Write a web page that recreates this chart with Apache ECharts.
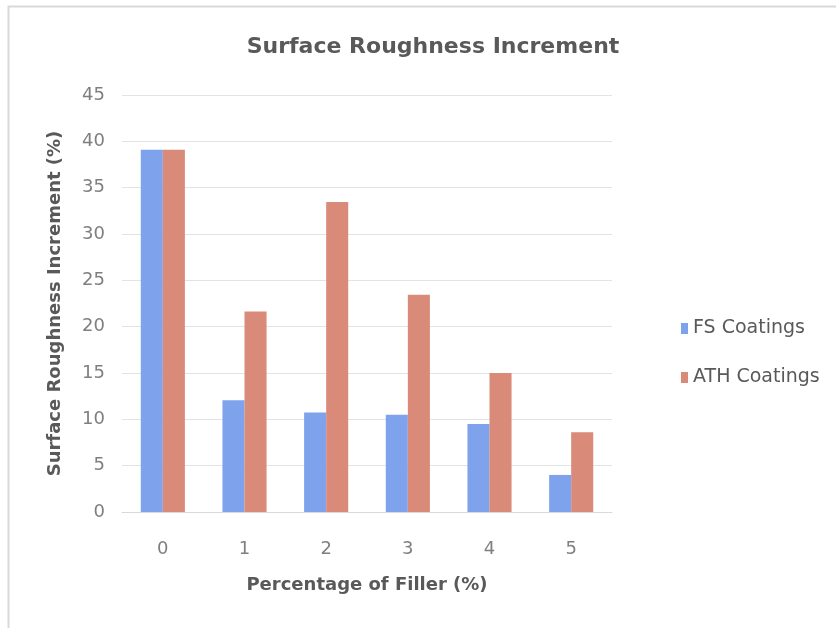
<!DOCTYPE html>
<html>
<head>
<meta charset="utf-8">
<script src="https://cdn.jsdelivr.net/npm/echarts@6/dist/echarts.min.js"></script>
<style>
  html, body { margin: 0; padding: 0; background: #fff; }
  #chart { width: 836px; height: 628px; }
</style>
</head>
<body>
<div id="chart"></div>
<script>
// percentage of filler
var categories = ['0', '1', '2', '3', '4', '5']
var fsCoatings = [39.1, 12.05, 10.75, 10.5, 9.5, 4.0]
var athCoatings = [39.1, 21.65, 33.45, 23.45, 15.0, 8.6]

var chart = echarts.init(document.getElementById('chart'))
chart.setOption({
  animation: false,
  textStyle: { fontFamily: 'DejaVu Sans' },
  graphic: [{
    type: 'rect',
    shape: { x: 8.5, y: 6.5, width: 840, height: 640 },
    style: { fill: 'none', stroke: '#d9d9d9', lineWidth: 2 }
  }],
  title: {
    text: 'Surface Roughness Increment',
    left: 428,
    top: 31,
    textAlign: 'center',
    textStyle: { color: '#595959', fontSize: 22, fontWeight: 'bold', fontFamily: 'DejaVu Sans' }
  },
  legend: {
    orient: 'vertical',
    left: 676,
    top: 314,
    itemWidth: 7,
    itemHeight: 11,
    itemGap: 30,
    icon: 'rect',
    textStyle: { color: '#595959', fontSize: 19, fontFamily: 'DejaVu Sans' },
    data: ['FS Coatings', 'ATH Coatings']
  },
  grid: { left: 122, right: 224, top: 95, bottom: 116 },
  xAxis: {
    type: 'category',
    data: categories,
    name: 'Percentage of Filler (%)',
    nameLocation: 'middle',
    nameGap: 64,
    nameTextStyle: { color: '#595959', fontSize: 18, fontWeight: 'bold' },
    axisLine: { lineStyle: { color: '#d9d9d9' } },
    axisTick: { show: false },
    axisLabel: { color: '#7f7f7f', fontSize: 18, margin: 28 }
  },
  yAxis: {
    type: 'value',
    min: 0,
    max: 45,
    interval: 5,
    name: 'Surface Roughness Increment (%)',
    nameLocation: 'middle',
    nameGap: 58,
    nameTextStyle: { color: '#595959', fontSize: 18, fontWeight: 'bold' },
    axisLine: { show: false },
    axisTick: { show: false },
    axisLabel: { color: '#7f7f7f', fontSize: 18, margin: 17 },
    splitLine: { lineStyle: { color: '#e3e3e3' } }
  },
  series: [
    {
      name: 'FS Coatings',
      type: 'bar',
      data: fsCoatings,
      barGap: '0%',
      barCategoryGap: '46%',
      itemStyle: { color: '#7fa2ec' }
    },
    {
      name: 'ATH Coatings',
      type: 'bar',
      data: athCoatings,
      itemStyle: { color: '#d98a78' }
    }
  ]
})
</script>
</body>
</html>
